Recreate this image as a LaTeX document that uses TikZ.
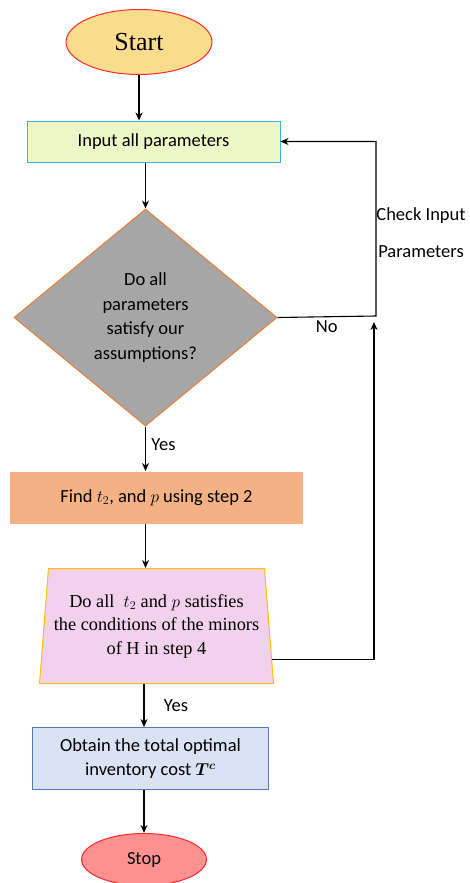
\documentclass[tikz,border=0pt]{standalone}
\usepackage{amsmath}
\usepackage{amssymb}
\usepackage{fontspec}
\setmainfont{Carlito}
\newfontfamily\flowserif{Liberation Serif}
\usepackage{tikz}
\usetikzlibrary{arrows,arrows.meta,shapes,positioning}
\usepackage{xcolor}
\definecolor{fcred}{RGB}{255,40,40}
\definecolor{fcstart}{RGB}{250,221,140}
\definecolor{fcstop}{RGB}{255,145,145}
\definecolor{fcinput}{RGB}{236,246,198}
\definecolor{fccyan}{RGB}{51,181,229}
\definecolor{fcgray}{RGB}{166,166,166}
\definecolor{fcorange}{RGB}{237,125,49}
\definecolor{fcfind}{RGB}{244,177,131}
\definecolor{fcpink}{RGB}{241,209,236}
\definecolor{fcgold}{RGB}{255,192,0}
\definecolor{fcblue}{RGB}{218,227,243}
\definecolor{fcblueline}{RGB}{80,125,180}
\tikzstyle{arrow} = [line width=1.1pt,->,>={Stealth[length=8pt,width=7pt]},color=black]
\tikzstyle{terminal} = [ellipse, draw=fcred, line width=1pt, inner sep=0pt]
\tikzstyle{process} = [rectangle, text centered, align=center, line width=1pt, inner sep=0pt]
\tikzstyle{decision} = [diamond, draw=fcorange, fill=fcgray, line width=1pt, align=center, inner sep=0pt, minimum width=263pt, minimum height=217pt]
\tikzstyle{check} = [trapezium, trapezium left angle=82, trapezium right angle=82, trapezium stretches body, draw=fcgold, fill=fcpink, line width=1pt, align=center, inner sep=0pt]

\begin{document}
\begin{tikzpicture}[x=1pt, y=-1pt, font=\fontsize{18.5}{24.5}\selectfont]
\useasboundingbox (0,0) rectangle (469,883);

% Start
\node (start) [terminal, fill=fcstart, minimum width=146pt, minimum height=65pt, font=\flowserif\fontsize{26}{30}\selectfont] at (139,42) {Start};

% Input
\node (input) [process, below of=start, node distance=99.5pt, xshift=14.5pt, minimum width=253pt, minimum height=41pt, fill=fcinput, draw=fccyan] {Input all parameters};

% First test
\node (assume) [decision, below of=input, node distance=174.5pt, xshift=-8pt, yshift=-1.5pt] {Do all\\parameters\\satisfy our\\assumptions?};

% Find t2 and p
\node (find) [process, below of=assume, node distance=180pt, xshift=11pt, minimum width=293pt, minimum height=52pt, fill=fcfind] {Find $t_2$, and $p$ using step 2};

% Second test
\node (minors) [check, below of=find, node distance=128.5pt, minimum width=234pt, minimum height=115pt, font=\flowserif\fontsize{18.3}{23.5}\selectfont] {Do all\ \ $t_2$ and $p$ satisfies\\the conditions of the minors\\of H in step 4};

% Total cost
\node (cost) [process, below of=minors, node distance=132.5pt, xshift=-6pt, minimum width=236pt, minimum height=62pt, fill=fcblue, draw=fcblueline] {Obtain the total optimal\\inventory cost $\boldsymbol{T^{c}}$};

% Stop
\node (stop) [terminal, below of=cost, node distance=101pt, xshift=-6.5pt, fill=fcstop, minimum width=125pt, minimum height=52pt] {Stop};

% Loop back corners
\coordinate (corner) at (376,316);
\coordinate (ret) at (374,322);
\node (recheck) [align=center, font=\fontsize{18.5}{37}\selectfont] at (421,233) {Check Input\\Parameters};

\draw[arrow] (start.south) -- (start.south |- input.north);
\draw[arrow] (input.south -| assume.north) -- (assume.north);
\draw[arrow] (assume.south) -- node[right, pos=0.4, xshift=2pt] {Yes} (assume.south |- find.north);
\draw[arrow] (find.south -| assume.south) -- (minors.north -| assume.south);
\draw[arrow] (minors.south -| stop.north) -- node[right, xshift=16pt] {Yes} (cost.north -| stop.north);
\draw[arrow] (cost.south -| stop.north) -- (stop.north);
\draw[arrow] (assume.east) -- node[below] {No} (corner) |- (input.east);
\draw[arrow] (minors.-16) -| (ret);
\end{tikzpicture}
\end{document}
